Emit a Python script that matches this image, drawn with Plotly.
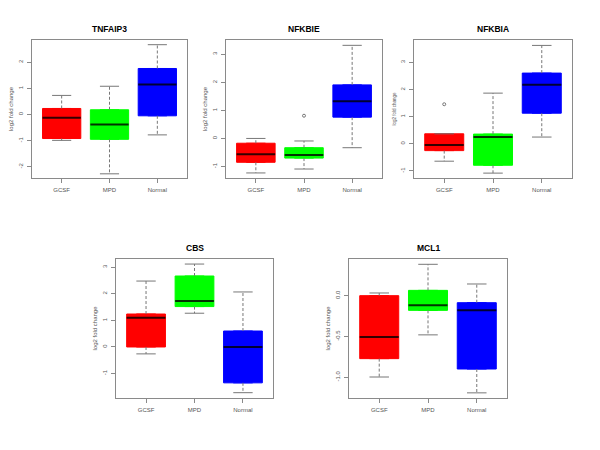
import plotly.graph_objects as go

categories = ["GCSF", "MPD", "Normal"]
colors = ["#FF0000", "#00FF00", "#0000FF"]

genes = ["TNFAIP3", "NFKBIE", "NFKBIA", "CBS", "MCL1"]

# per gene: values for GCSF, MPD, Normal
tnfaip3_lower = [-0.99, -2.27, -0.78]
tnfaip3_q1 = [-0.92, -0.95, -0.05]
tnfaip3_median = [-0.12, -0.38, 1.15]
tnfaip3_q3 = [0.23, 0.18, 1.76]
tnfaip3_upper = [0.73, 1.08, 2.67]
tnfaip3_outliers = [[], [], []]

nfkbie_lower = [-1.23, -1.09, -0.33]
nfkbie_q1 = [-0.85, -0.70, 0.76]
nfkbie_median = [-0.56, -0.59, 1.33]
nfkbie_q3 = [-0.17, -0.33, 1.91]
nfkbie_upper = [0.0, -0.09, 3.32]
nfkbie_outliers = [[], [0.81], []]

nfkbia_lower = [-0.64, -1.08, 0.25]
nfkbia_q1 = [-0.25, -0.79, 1.13]
nfkbia_median = [-0.04, 0.25, 2.18]
nfkbia_q3 = [0.37, 0.36, 2.61]
nfkbia_upper = [0.37, 1.87, 3.63]
nfkbia_outliers = [[1.46], [], []]

cbs_lower = [-0.26, 1.27, -1.72]
cbs_q1 = [0.0, 1.52, -1.35]
cbs_median = [1.10, 1.73, 0.0]
cbs_q3 = [1.24, 2.67, 0.60]
cbs_upper = [2.48, 3.12, 2.07]
cbs_outliers = [[], [], []]

mcl1_lower = [-0.996, -0.48, -1.19]
mcl1_q1 = [-0.771, -0.18, -0.898]
mcl1_median = [-0.506, -0.118, -0.18]
mcl1_q3 = [0.0, 0.065, -0.086]
mcl1_upper = [0.033, 0.384, 0.143]
mcl1_outliers = [[], [], []]

stats = {
    "TNFAIP3": (tnfaip3_lower, tnfaip3_q1, tnfaip3_median, tnfaip3_q3, tnfaip3_upper, tnfaip3_outliers),
    "NFKBIE": (nfkbie_lower, nfkbie_q1, nfkbie_median, nfkbie_q3, nfkbie_upper, nfkbie_outliers),
    "NFKBIA": (nfkbia_lower, nfkbia_q1, nfkbia_median, nfkbia_q3, nfkbia_upper, nfkbia_outliers),
    "CBS": (cbs_lower, cbs_q1, cbs_median, cbs_q3, cbs_upper, cbs_outliers),
    "MCL1": (mcl1_lower, mcl1_q1, mcl1_median, mcl1_q3, mcl1_upper, mcl1_outliers),
}

y_ranges = {
    "TNFAIP3": [-2.43, 2.85],
    "NFKBIE": [-1.41, 3.51],
    "NFKBIA": [-1.26, 3.83],
    "CBS": [-1.92, 3.31],
    "MCL1": [-1.253, 0.449],
}
y_ticks = {
    "TNFAIP3": ([-2, -1, 0, 1, 2], ["-2", "-1", "0", "1", "2"]),
    "NFKBIE": ([-1, 0, 1, 2, 3], ["-1", "0", "1", "2", "3"]),
    "NFKBIA": ([-1, 0, 1, 2, 3], ["-1", "0", "1", "2", "3"]),
    "CBS": ([-1, 0, 1, 2, 3], ["-1", "0", "1", "2", "3"]),
    "MCL1": ([-1.0, -0.5, 0.0], ["-1.0", "-0.5", "0.0"]),
}

W, H = 600, 450
# plot boxes in pixels (left, right, top, bottom)
boxes_px = {
    "TNFAIP3": (32, 187, 40, 178),
    "NFKBIE": (226, 382, 40, 178),
    "NFKBIA": (414, 572, 40, 178),
    "CBS": (116, 273, 259, 398),
    "MCL1": (349, 507, 259, 398),
}
ylabel_size = {"TNFAIP3": 6, "NFKBIE": 6, "NFKBIA": 4.5, "CBS": 6, "MCL1": 6}

FONT = "Liberation Sans, Arial, sans-serif"
AX = "#8a8a8a"

fig = go.Figure()
layout = dict(
    width=W, height=H, margin=dict(l=0, r=0, t=0, b=0),
    paper_bgcolor="white", plot_bgcolor="white", showlegend=False,
    font=dict(family=FONT),
)
annotations = []

positions = [1, 2, 3]
half_box = 0.4
half_staple = 0.2

for gi, gene in enumerate(genes):
    n = gi + 1
    xa = "x" if n == 1 else f"x{n}"
    ya = "y" if n == 1 else f"y{n}"
    lower, q1, med, q3, upper, outl = stats[gene]
    for ci, cat in enumerate(categories):
        p = positions[ci]
        fig.add_trace(go.Box(
            x=[p], q1=[q1[ci]], median=[med[ci]], q3=[q3[ci]],
            lowerfence=[q1[ci]], upperfence=[q3[ci]],
            width=0.8, fillcolor=colors[ci],
            line=dict(color=colors[ci], width=1),
            boxpoints=False, xaxis=xa, yaxis=ya, hoverinfo="skip",
        ))
        # whiskers (dashed)
        fig.add_trace(go.Scatter(
            x=[p, p, None, p, p], y=[q3[ci], upper[ci], None, q1[ci], lower[ci]],
            mode="lines", line=dict(color="#777777", width=1, dash="3px,2px"),
            xaxis=xa, yaxis=ya, hoverinfo="skip",
        ))
        # staples
        fig.add_trace(go.Scatter(
            x=[p - half_staple, p + half_staple, None, p - half_staple, p + half_staple],
            y=[upper[ci], upper[ci], None, lower[ci], lower[ci]],
            mode="lines", line=dict(color="#777777", width=1),
            xaxis=xa, yaxis=ya, hoverinfo="skip",
        ))
        # median
        fig.add_trace(go.Scatter(
            x=[p - half_box, p + half_box], y=[med[ci], med[ci]],
            mode="lines", line=dict(color="rgba(0,0,0,0.8)", width=2),
            xaxis=xa, yaxis=ya, hoverinfo="skip",
        ))
        if outl[ci]:
            fig.add_trace(go.Scatter(
                x=[p] * len(outl[ci]), y=outl[ci], mode="markers",
                marker=dict(symbol="circle-open", size=3, color="#777777", line=dict(width=1)),
                xaxis=xa, yaxis=ya, hoverinfo="skip",
            ))

    l, r, t, b = boxes_px[gene]
    xdom = [l / W, r / W]
    ydom = [1 - b / H, 1 - t / H]
    common = dict(showline=True, mirror=True, linecolor=AX, linewidth=1,
                  ticks="outside", ticklen=4, tickcolor=AX, tickwidth=1,
                  showgrid=False, zeroline=False, automargin=False,
                  tickfont=dict(size=6, color="#555555", family=FONT))
    layout["xaxis" if n == 1 else f"xaxis{n}"] = dict(
        domain=xdom, anchor=ya, range=[0.38, 3.62],
        tickvals=positions, ticktext=categories, ticklabelstandoff=2, **common)
    tv, tt = y_ticks[gene]
    layout["yaxis" if n == 1 else f"yaxis{n}"] = dict(
        domain=ydom, anchor=xa, range=y_ranges[gene],
        tickvals=tv, ticktext=tt, tickangle=-90, ticklabelstandoff=2,
        title=dict(text="log2 fold change", standoff=3,
                   font=dict(size=ylabel_size[gene], color="#555555", family=FONT)),
        **common)
    annotations.append(dict(
        text=f"<b>{gene}</b>", x=(xdom[0] + xdom[1]) / 2, y=1 - (t - 11) / H,
        xref="paper", yref="paper", showarrow=False,
        font=dict(size=8.5, color="black", family=FONT),
        xanchor="center", yanchor="middle",
    ))

layout["annotations"] = annotations
fig.update_layout(**layout)
fig.write_html("out.html", config={"displayModeBar": False},
               post_script="document.body.style.margin='0';")
